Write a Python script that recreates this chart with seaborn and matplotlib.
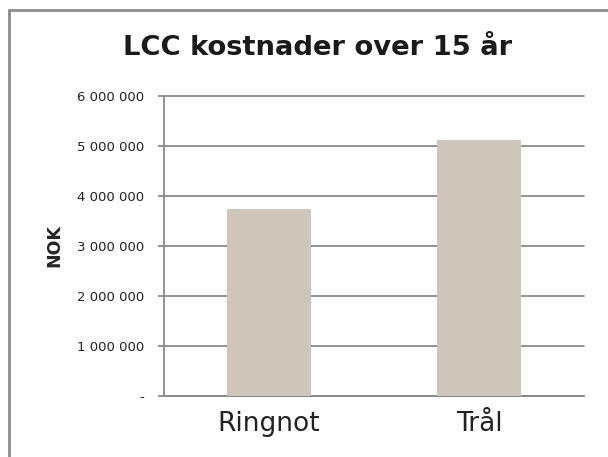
import pandas as pd
import matplotlib.pyplot as plt
import seaborn as sns
from matplotlib.lines import Line2D
from matplotlib.ticker import FuncFormatter

# data
kategorier = ['Ringnot', 'Trål']
kostnad = [3730000, 5110000]
y_ticks = [0, 1000000, 2000000, 3000000, 4000000, 5000000, 6000000]


def nok_format(v, pos):
    """Tall med mellomrom som tusenskille, null som '-'."""
    if v == 0:
        return '-'
    return f'{int(v):,}'.replace(',', ' ')


df = pd.DataFrame({'kategori': kategorier, 'kostnad': kostnad})

sns.set_style('white')
plt.rcParams['font.family'] = ['DejaVu Sans']

fig = plt.figure(figsize=(6.08, 4.57), dpi=100)
ax = fig.add_axes([0.2697, 0.134, 0.6908, 0.6565])

sns.barplot(data=df, x='kategori', y='kostnad', color='#cfc6bb',
            saturation=1, width=0.4, linewidth=0, edgecolor='none',
            ax=ax, zorder=3)

grid_c = '#8a8a8a'
ax.set_ylim(0, 6000000)
ax.set_yticks(y_ticks)
ax.yaxis.set_major_formatter(FuncFormatter(nok_format))
ax.grid(axis='y', color=grid_c, linewidth=1.3, zorder=0)
ax.set_axisbelow(True)
for gl in ax.get_ygridlines():
    gl.set_clip_on(False)

for side in ['top', 'right']:
    ax.spines[side].set_visible(False)
for side in ['left', 'bottom']:
    ax.spines[side].set_color(grid_c)
    ax.spines[side].set_linewidth(1.3)

ax.tick_params(axis='y', length=4, width=1.3, color=grid_c, labelsize=9.5,
               labelcolor='#222222', pad=10, left=True)
ax.tick_params(axis='x', length=0, labelsize=19, labelcolor='#222222', pad=11)
ax.set_xlabel('')
ax.set_ylabel('NOK', fontsize=12.5, fontweight='bold', labelpad=10)

fig.text(0.522, 0.895, 'LCC kostnader over 15 år', ha='center', va='center',
         fontsize=19.7, fontweight='bold', color='#1a1a1a')

# ramme rundt diagrammet (bare venstre og topp synlig)
fig.add_artist(Line2D([8.5 / 608, 8.5 / 608], [0, 1 - 9.5 / 457],
                      transform=fig.transFigure, color='#8c8c8c', linewidth=2))
fig.add_artist(Line2D([8.5 / 608, 1], [1 - 9.5 / 457, 1 - 9.5 / 457],
                      transform=fig.transFigure, color='#8c8c8c', linewidth=2))

fig.savefig('out.png', dpi=100)
